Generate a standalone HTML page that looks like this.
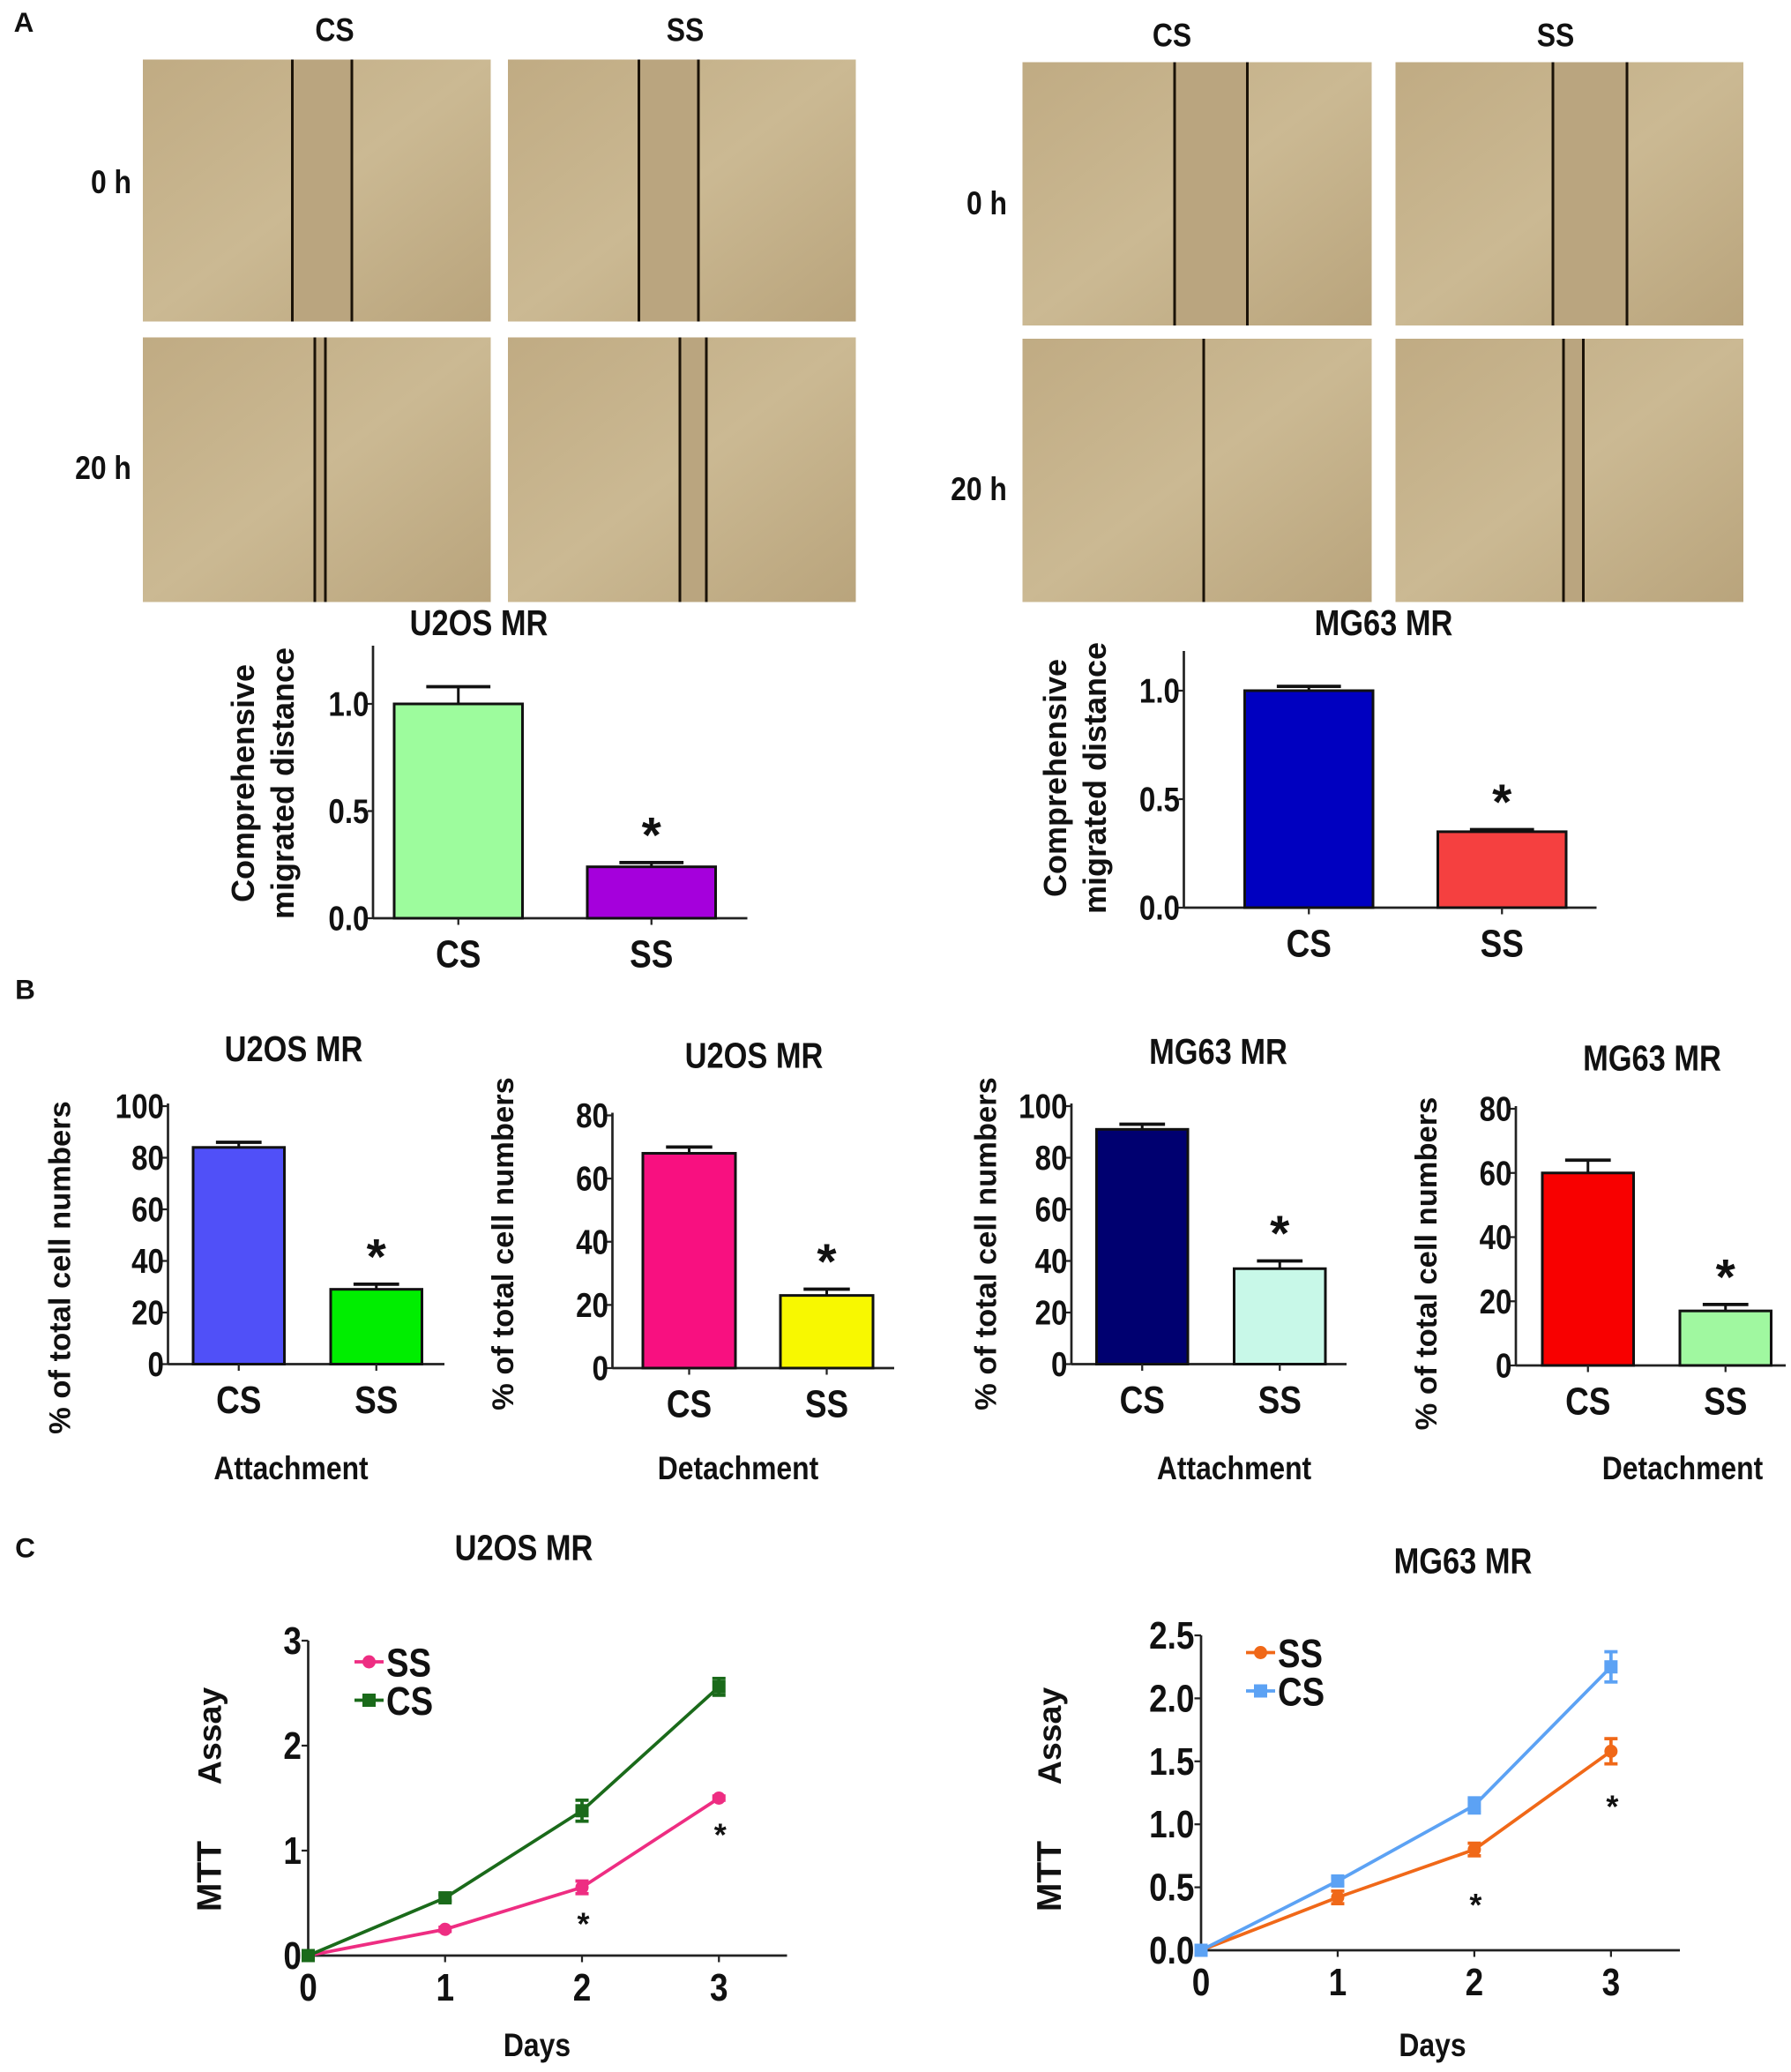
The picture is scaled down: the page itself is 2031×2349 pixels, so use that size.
<!DOCTYPE html>
<html><head><meta charset="utf-8"><style>
html,body{margin:0;padding:0;background:#fff}
svg{display:block}
text{font-family:"Liberation Sans",Arial,sans-serif;font-weight:bold;fill:#111}
</style></head><body>
<svg id="fig" xmlns="http://www.w3.org/2000/svg" width="2031" height="2349" viewBox="0 0 1354 1566">
<defs>
<linearGradient id="photo" x1="0" y1="0" x2="1" y2="1">
<stop offset="0" stop-color="#c0ab83"/><stop offset="0.5" stop-color="#cbb993"/><stop offset="1" stop-color="#b9a47c"/>
</linearGradient>
</defs>
</svg>
<script>
const photoTiles=[
 {x:108,y:45,w:263,h:198,lines:[221,266]},{x:384,y:45,w:263,h:198,lines:[483,528]},
 {x:108,y:255,w:263,h:200,lines:[238,246]},{x:384,y:255,w:263,h:200,lines:[514,534]},
 {x:773,y:47,w:264,h:199,lines:[888,943]},{x:1055,y:47,w:263,h:199,lines:[1174,1230]},
 {x:773,y:256,w:264,h:199,lines:[910]},{x:1055,y:256,w:263,h:199,lines:[1182,1197]}];

const barCats=["CS","SS"];
const migU2OS=[1.0,0.24]; const migU2OSErr=[0.08,0.02];
const migMG63=[1.0,0.35]; const migMG63Err=[0.02,0.01];
const migTicks=[0,0.5,1.0]; const migTickLabels=["0.0","0.5","1.0"];
const attU2OS=[84,29]; const attU2OSErr=[2,2];
const detU2OS=[68,23]; const detU2OSErr=[2,2];
const attMG63=[91,37]; const attMG63Err=[2,3];
const detMG63=[60,17]; const detMG63Err=[4,2];
const ticks100=[0,20,40,60,80,100]; const ticks80=[0,20,40,60,80];
const days=[0,1,2,3];
const mttU2OS_SS=[0,0.25,0.65,1.5]; const mttU2OS_SSErr=[0,0.02,0.06,0.02];
const mttU2OS_CS=[0,0.55,1.38,2.56]; const mttU2OS_CSErr=[0,0.03,0.1,0.08];
const mttMG63_SS=[0,0.42,0.8,1.58]; const mttMG63_SSErr=[0,0.05,0.05,0.1];
const mttMG63_CS=[0,0.55,1.15,2.25]; const mttMG63_CSErr=[0,0.03,0.06,0.12];
const mttTicksU=[0,1,2,3]; const mttTickLabelsU=["0","1","2","3"];
const mttTicksM=[0,0.5,1,1.5,2,2.5]; const mttTickLabelsM=["0.0","0.5","1.0","1.5","2.0","2.5"];

const svg=document.getElementById('fig');
const NS="http://www.w3.org/2000/svg";
function el(tag,attrs,parent){const e=document.createElementNS(NS,tag);for(const k in attrs)e.setAttribute(k,attrs[k]);(parent||svg).appendChild(e);return e;}
function txt(x,y,s,size,anchor,rot,name,narrow){
  const g=el('g',{transform:`translate(${x},${y})`+(rot?` rotate(${rot})`:'')+(narrow===false?'':' scale(0.85,1)')});
  const t=el('text',{x:0,y:0,'font-size':size,'text-anchor':anchor||'middle'},g);
  
  
  t.textContent=s;return t;}

txt(18,24,"A",21,'middle',0,'panel-label-a',false);
txt(19,755,"B",21,'middle',0,'panel-label-b',false);
txt(19,1177,"C",21,'middle',0,'panel-label-c',false);

photoTiles.forEach((p,i)=>{
  const r=el('rect',{x:p.x,y:p.y,width:p.w,height:p.h,fill:'url(#photo)'});
  
  
  if(p.lines.length==2){el('rect',{x:p.lines[0],y:p.y,width:p.lines[1]-p.lines[0],height:p.h,fill:'#baa57f'});}
  p.lines.forEach(lx=>{const l=el('line',{x1:lx,y1:p.y,x2:lx,y2:p.y+p.h,stroke:'#1a1208','stroke-width':2});
    
    });
});
txt(253,31,"CS",25,'middle',0,'col-label-cs');txt(518,31,"SS",25,'middle',0,'col-label-ss');
txt(84,146,"0 h",25,'middle',0,'row-label-0h');txt(78,362,"20 h",25,'middle',0,'row-label-20h');
txt(886,35,"CS",25,'middle',0,'col-label-cs-2');txt(1176,35,"SS",25,'middle',0,'col-label-ss-2');
txt(746,162,"0 h",25,'middle',0,'row-label-0h-2');txt(740,378,"20 h",25,'middle',0,'row-label-20h-2');

function barChart(o){
  const g=el('g',{});
  
  
  const y=v=>o.y0-(v/o.ymax)*(o.y0-o.ytop);
  el('line',{x1:o.ax,y1:o.axTop,x2:o.ax,y2:o.y0,stroke:'#222','stroke-width':1.8},g);
  el('line',{x1:o.ax,y1:o.y0,x2:o.axEnd,y2:o.y0,stroke:'#222','stroke-width':1.8},g);
  o.ticks.forEach((t,i)=>{el('line',{x1:o.ax-4,y1:y(t),x2:o.ax,y2:y(t),stroke:'#222','stroke-width':1.5},g);
    txt(o.ax-3,y(t)+9,o.tickLabels[i],26,'end',0,'y-tick-label');});
  barCats.forEach((c,i)=>{
    const cx=o.bx[i]+o.bw/2;
    el('line',{x1:cx,y1:y(o.vals[i]+o.errs[i]),x2:cx,y2:y(o.vals[i]),stroke:'#111','stroke-width':2},g);
    el('line',{x1:cx-o.bw*0.25,y1:y(o.vals[i]+o.errs[i]),x2:cx+o.bw*0.25,y2:y(o.vals[i]+o.errs[i]),stroke:'#111','stroke-width':2.5},g);
    const r=el('rect',{x:o.bx[i],y:y(o.vals[i]),width:o.bw,height:o.y0-y(o.vals[i]),fill:o.colors[i],stroke:'#111','stroke-width':2},g);
    
    
    el('line',{x1:cx,y1:o.y0,x2:cx,y2:o.y0+5,stroke:'#222','stroke-width':1.5},g);
    txt(cx,o.y0+37,c,29,'middle',0,'x-tick-label');
  });
  const sx=o.bx[1]+o.bw/2;
  txt(sx,y(o.vals[1]+o.errs[1])-8,"*",38,'middle',0,'significance-star',false);
  txt(o.tx,o.ty,o.title,27,'middle',0,'chart-title');
  o.ytitles.forEach((s,i)=>txt(o.ytx[i],o.tyc,s,o.ytfs||23,'middle',-90,'y-axis-title',false));
  if(o.sub)txt(o.sub[0],o.sub[1],o.sub[2],25,'middle',0,'x-axis-group-label');
}
barChart({name:'migration-u2os',ax:282,axTop:488,y0:694,ytop:532,ymax:1,axEnd:565,ticks:migTicks,tickLabels:migTickLabels,
  vals:migU2OS,errs:migU2OSErr,bx:[298,444],bw:97,colors:['#9dfc9d','#a500dc'],title:'U2OS  MR',tx:362,ty:480,ytitles:['Comprehensive','migrated distance'],ytx:[192,222],tyc:592,ytfs:24});
barChart({name:'migration-mg63',ax:895,axTop:492,y0:686,ytop:522,ymax:1,axEnd:1207,ticks:migTicks,tickLabels:migTickLabels,
  vals:migMG63,errs:migMG63Err,bx:[941,1087],bw:97,colors:['#0000c0','#f54040'],title:'MG63  MR',tx:1046,ty:480,ytitles:['Comprehensive','migrated distance'],ytx:[806,836],tyc:588,ytfs:24});
barChart({name:'attachment-u2os',ax:127,axTop:834,y0:1031,ytop:836,ymax:100,axEnd:336,ticks:ticks100,tickLabels:ticks100.map(String),
  vals:attU2OS,errs:attU2OSErr,bx:[146,250],bw:69,colors:['#5050f8','#00ee00'],title:'U2OS  MR',tx:222,ty:802,ytitles:['% of total cell numbers'],ytx:[53],tyc:958,sub:[220,1118,'Attachment']});
barChart({name:'detachment-u2os',ax:463,axTop:841,y0:1034,ytop:843,ymax:80,axEnd:676,ticks:ticks80,tickLabels:ticks80.map(String),
  vals:detU2OS,errs:detU2OSErr,bx:[486,590],bw:70,colors:['#f81080','#f8f800'],title:'U2OS  MR',tx:570,ty:807,ytitles:['% of total cell numbers'],ytx:[388],tyc:940,sub:[558,1118,'Detachment']});
barChart({name:'attachment-mg63',ax:810,axTop:834,y0:1031,ytop:836,ymax:100,axEnd:1018,ticks:ticks100,tickLabels:ticks100.map(String),
  vals:attMG63,errs:attMG63Err,bx:[829,933],bw:69,colors:['#000070','#c8f8e8'],title:'MG63  MR',tx:921,ty:804,ytitles:['% of total cell numbers'],ytx:[753],tyc:940,sub:[933,1118,'Attachment']});
barChart({name:'detachment-mg63',ax:1146,axTop:836,y0:1032,ytop:838,ymax:80,axEnd:1350,ticks:ticks80,tickLabels:ticks80.map(String),
  vals:detMG63,errs:detMG63Err,bx:[1166,1270],bw:69,colors:['#f80000','#a0f8a0'],title:'MG63  MR',tx:1249,ty:809,ytitles:['% of total cell numbers'],ytx:[1086],tyc:955,sub:[1272,1118,'Detachment']});

function lineChart(o){
  const g=el('g',{});
  
  
  const x=d=>o.x0+d*o.dx; const y=v=>o.y0-(v/o.ymax)*(o.y0-o.ytop);
  el('line',{x1:o.x0,y1:o.ytop,x2:o.x0,y2:o.y0,stroke:'#222','stroke-width':1.8},g);
  el('line',{x1:o.x0,y1:o.y0,x2:o.xEnd,y2:o.y0,stroke:'#222','stroke-width':1.8},g);
  o.ticks.forEach((t,i)=>{el('line',{x1:o.x0-5,y1:y(t),x2:o.x0,y2:y(t),stroke:'#222','stroke-width':1.5},g);
    txt(o.x0-5,y(t)+10,o.tickLabels[i],29,'end',0,'y-tick-label');});
  days.forEach(d=>{el('line',{x1:x(d),y1:o.y0,x2:x(d),y2:o.y0+5,stroke:'#222','stroke-width':1.5},g);
    txt(x(d),o.y0+34,String(d),29,'middle',0,'x-tick-label');});
  o.series.forEach(s=>{
    const p=el('polyline',{points:days.map((d,i)=>x(d)+','+y(s.v[i])).join(' '),fill:'none',stroke:s.c,'stroke-width':2.5},g);
    
    
    days.forEach((d,i)=>{
      if(s.e[i]>0){el('line',{x1:x(d),y1:y(s.v[i]+s.e[i]),x2:x(d),y2:y(s.v[i]-s.e[i]),stroke:s.c,'stroke-width':2.5},g);
        [1,-1].forEach(k=>el('line',{x1:x(d)-5,y1:y(s.v[i]+k*s.e[i]),x2:x(d)+5,y2:y(s.v[i]+k*s.e[i]),stroke:s.c,'stroke-width':2.5},g));}
      const m=s.sq?el('rect',{x:x(d)-5,y:y(s.v[i])-5,width:10,height:10,fill:s.c},g):el('circle',{cx:x(d),cy:y(s.v[i]),r:5,fill:s.c},g);
      
      
    });
  });
  o.stars.forEach(d=>txt(x(d)+1,y(o.series[0].v[d])+o.starOff,"*",24,'middle',0,'significance-star',false));
  o.series.forEach((s,i)=>{const ly=o.legY+i*29;
    el('line',{x1:o.legX,y1:ly,x2:o.legX+22,y2:ly,stroke:s.c,'stroke-width':2.5},g);
    s.sq?el('rect',{x:o.legX+6,y:ly-5,width:10,height:10,fill:s.c},g):el('circle',{cx:o.legX+11,cy:ly,r:5,fill:s.c},g);
    txt(o.legX+24,ly+11,s.n.toUpperCase(),30,'start',0,'legend-entry');});
  txt(o.tx,o.ty,o.title,27,'middle',0,'chart-title');
  txt(o.ytx,o.yA,"Assay",25,'middle',-90,'y-axis-title',false);
  txt(o.ytx,o.yM,"MTT",26,'middle',-90,'y-axis-title',false);
  txt(o.dxl,1554,"Days",25,'middle',0,'x-axis-title');
}
lineChart({name:'mtt-u2os',x0:233,dx:103.5,y0:1478,ytop:1240,ymax:3,xEnd:595,ticks:mttTicksU,tickLabels:mttTickLabelsU,
  series:[{n:'ss',v:mttU2OS_SS,e:mttU2OS_SSErr,c:'#ee2d82'},{n:'cs',v:mttU2OS_CS,e:mttU2OS_CSErr,c:'#1a6a1a',sq:true}],
  stars:[2,3],starOff:36,legX:268,legY:1256,title:'U2OS  MR',tx:396,ty:1179,ytx:167,yA:1312,yM:1418,dxl:406});
lineChart({name:'mtt-mg63',x0:908,dx:103.3,y0:1474,ytop:1236,ymax:2.5,xEnd:1270,ticks:mttTicksM,tickLabels:mttTickLabelsM,
  series:[{n:'ss',v:mttMG63_SS,e:mttMG63_SSErr,c:'#f06818'},{n:'cs',v:mttMG63_CS,e:mttMG63_CSErr,c:'#5ca2f4',sq:true}],
  stars:[2,3],starOff:50,legX:942,legY:1249,title:'MG63  MR',tx:1106,ty:1189,ytx:802,yA:1312,yM:1418,dxl:1083});
</script>
</body></html>
